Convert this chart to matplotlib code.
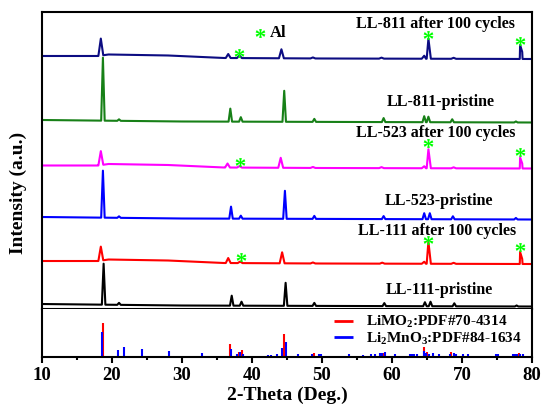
import numpy as np
import matplotlib.pyplot as plt

plt.rcParams['font.family'] = 'Liberation Serif'
plt.rcParams['font.weight'] = 'bold'
plt.rcParams['mathtext.fontset'] = 'custom'
plt.rcParams['mathtext.rm'] = 'Liberation Serif:bold'
plt.rcParams['mathtext.it'] = 'Liberation Serif:bold'
plt.rcParams['mathtext.bf'] = 'Liberation Serif:bold'

# stacked patterns, bottom to top (y in plot units)
labels = ["LL-111-pristine", "LL-111 after 100 cycles", "LL-523-pristine",
          "LL-523 after 100 cycles", "LL-811-pristine", "LL-811 after 100 cycles"]
colors = ["black", "#ff0000", "#0000ff", "#ff00ff", "#178017", "#0c0c82"]
baselines = [2.5, 45, 89.5, 140.5, 186.5, 250]
label_x = [66.7, 66.4, 66.7, 66.3, 66.9, 66.2]
label_y = [19, 78, 108, 176, 207, 285]

# background shape (offset above the baseline)
bg_x_pristine = [10, 30, 80]
bg_y_pristine = [2.5, 1, 0]
bg_x_cycled = [10, 18, 19.5, 28, 36, 50, 80]
bg_y_cycled = [3, 3, 4.5, 3.5, 1, 0.5, 0]

pos_111p = [18.8, 21.0, 37.1, 38.5, 44.8, 48.9, 58.9, 64.7, 65.5, 68.9, 77.8]
hgt_111p = [41, 2, 10, 4, 23, 3, 3, 4, 4.5, 3, 1]
pos_111c = [18.4, 36.6, 38.3, 44.3, 48.7, 58.6, 64.6, 65.2, 68.8, 78.3, 78.6]
hgt_111c = [14, 5, 1.5, 11, 1, 1, 2, 22, 1, 12, 5]
pos_523p = [18.7, 21.0, 37.0, 38.4, 44.7, 48.9, 58.8, 64.6, 65.4, 68.7, 77.7]
hgt_523p = [47, 1.5, 12, 3, 28, 3, 3, 6, 6, 3, 1.5]
pos_523c = [18.4, 36.5, 38.2, 44.1, 48.7, 58.5, 64.6, 65.2, 68.8, 78.3, 78.6]
hgt_523c = [14, 4, 1.5, 10, 1, 1, 2, 19, 1, 11, 5]
pos_811p = [18.7, 21.0, 36.9, 38.4, 44.6, 48.9, 58.8, 64.6, 65.2, 68.6, 77.7]
hgt_811p = [63, 1.5, 13, 4.5, 31, 3, 4, 6, 5.5, 3, 1]
pos_811c = [18.4, 36.6, 38.2, 44.2, 48.7, 58.5, 64.6, 65.2, 68.8, 78.3, 78.6]
hgt_811c = [17, 4, 2.5, 9, 1, 1, 3, 20, 1, 14, 7]

# Al reflections marked with green stars
star_x = [38.4, 65.2, 78.3, 38.3, 65.2, 78.3, 38.2, 65.2, 78.3]
star_y = [52, 69, 62, 147, 166, 157, 256, 274, 268]

# reference cards (bottom panel)
limo2_pos = [18.75, 36.8, 38.2, 38.5, 44.6, 48.8, 58.8, 64.5, 65.0, 68.4, 78.2]
limo2_hgt = [34, 13, 5, 7, 23, 4, 4, 10, 5, 5, 4]
li2mno3_pos = [18.55, 20.8, 21.7, 24.3, 28.1, 32.9, 37.05, 37.9, 38.3, 38.7,
               42.3, 42.7, 43.6, 44.35, 44.8, 46.6, 48.6, 49.5, 49.8, 53.9,
               55.9, 57.0, 57.5, 58.3, 58.6, 59.0, 60.4, 62.6, 62.9, 63.2,
               63.5, 64.5, 64.8, 65.3, 65.8, 66.7, 68.3, 68.9, 69.2, 70.1,
               70.9, 74.8, 75.1, 77.3, 77.6, 77.9, 78.3, 78.7]
li2mno3_hgt = [25, 7, 10, 8, 6, 4, 8, 3, 5, 3,
               2, 2, 3, 9, 15, 3, 3, 3, 3, 3,
               2, 3, 3, 4, 4, 5, 3, 3, 3, 3,
               3, 6, 4, 3, 4, 3, 3, 4, 3, 3,
               3, 3, 3, 3, 3, 3, 3, 3]

peaks = [(pos_111p, hgt_111p), (pos_111c, hgt_111c), (pos_523p, hgt_523p),
         (pos_523c, hgt_523c), (pos_811p, hgt_811p), (pos_811c, hgt_811c)]
cycled = [False, True, False, True, False, True]


def build_pattern(pos, hgt, base, is_cycled):
    # each peak drawn as foot-top-foot, feet sitting on the background
    if is_cycled:
        bgx, bgy, hw = bg_x_cycled, bg_y_cycled, 0.35
    else:
        bgx, bgy, hw = bg_x_pristine, bg_y_pristine, 0.25
    xs = list(bgx)
    for p in pos:
        xs += [p - hw, p + hw]
    xs = sorted(set(xs + list(pos)))
    ys = np.interp(xs, bgx, bgy) + base
    for p, h in zip(pos, hgt):
        ys[xs.index(p)] += h
    return xs, ys


fig = plt.figure(figsize=(5.5, 4.19), dpi=100)
ax1 = fig.add_axes([0.0764, 0.2625, 0.8909, 0.7089])
ax2 = fig.add_axes([0.0764, 0.148, 0.8909, 0.1146])

for i in range(len(labels)):
    xs, ys = build_pattern(peaks[i][0], peaks[i][1], baselines[i], cycled[i])
    ax1.plot(xs, ys, color=colors[i], lw=1.5)
    ax1.text(label_x[i], label_y[i], labels[i], ha='center', va='center',
             fontsize=11.5, fontweight='bold')

ax1.plot(star_x, star_y, ls='none', marker='$*$', ms=7, mew=0,
         color='#00ff00')
ax1.plot([41.1], [276], ls='none', marker='$*$', ms=7, mew=0,
         color='#00ff00')
ax1.text(42.5, 276, "Al", ha='left', va='center', fontsize=12,
         fontweight='bold')

ax1.set_xlim(10, 80)
ax1.set_ylim(0, 297)
ax1.set_xticks([])
ax1.set_yticks([])
for s in ax1.spines.values():
    s.set_linewidth(1.5)

ax2.vlines(limo2_pos, 0, limo2_hgt, color='#ff0000', lw=1.5,
           label='LiMO$_2$:PDF#70-4314')
ax2.vlines(li2mno3_pos, 0, li2mno3_hgt, color='#0000ff', lw=1.5,
           label='Li$_2$MnO$_3$:PDF#84-1634')
ax2.set_xlim(10, 80)
ax2.set_ylim(0, 48)
ax2.set_yticks([])
ax2.set_xticks(range(10, 81, 10))
ax2.set_xticks(range(15, 80, 10), minor=True)
ax2.tick_params(axis='x', which='major', direction='out', length=4, width=1.5,
                labelsize=13.5, pad=3)
ax2.tick_params(axis='x', which='minor', direction='out', length=2.5, width=1.5)
ax2.spines['top'].set_visible(False)
for s in ['left', 'right', 'bottom']:
    ax2.spines[s].set_linewidth(1.5)
ax2.set_xlabel("2-Theta (Deg.)", fontsize=14, fontweight='bold', labelpad=2)

leg = ax2.legend(loc='upper right', bbox_to_anchor=(1.0, 1.12), frameon=False,
                 fontsize=11, handlelength=1.3, handletextpad=0.8,
                 labelspacing=0.05, borderpad=0.2)
for h in leg.legend_handles:
    h.set_linewidth(2)

fig.text(0.034, 0.54, "Intensity (a.u.)", rotation=90, ha='center',
         va='center', fontsize=14, fontweight='bold')

fig.savefig("out.png", dpi=100)
